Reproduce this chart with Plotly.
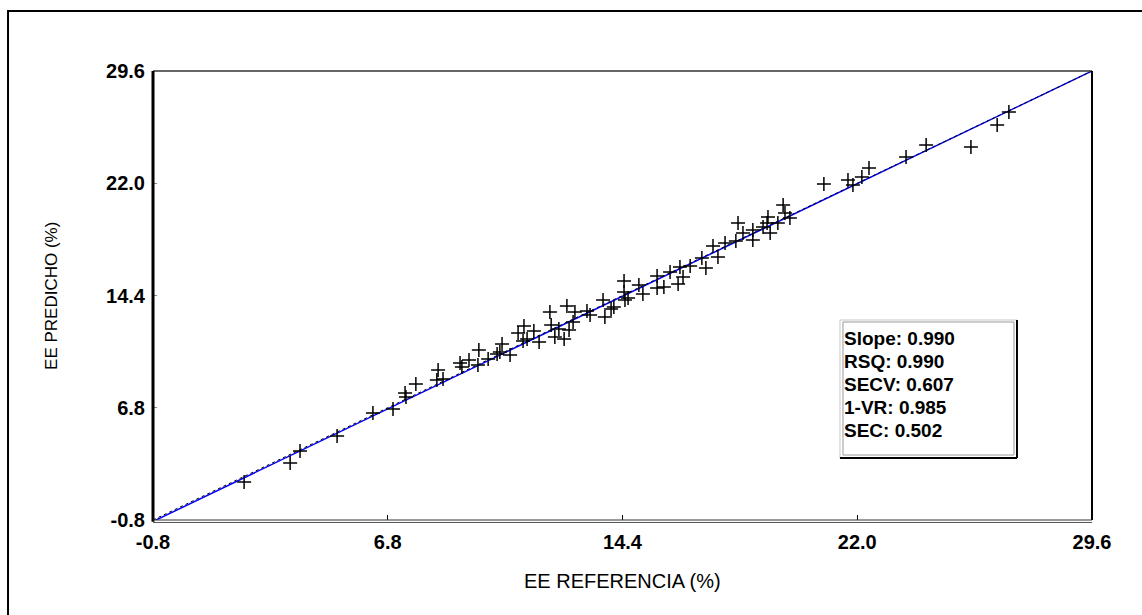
import plotly.graph_objects as go

# Reference vs predicted values (%)
ee_referencia = [
    2.15, 3.64, 3.96, 5.16, 6.32, 6.97, 7.36, 7.39, 7.71, 8.43,
    8.39, 8.59, 9.14, 9.20, 9.43, 9.75, 9.72, 10.05, 10.34, 10.50,
    10.43, 10.76, 11.02, 11.21, 11.18, 11.31, 11.53, 11.70, 12.05, 12.09,
    12.21, 12.34, 12.51, 12.60, 12.67, 12.80, 12.86, 13.25, 13.35, 13.77,
    13.83, 14.03, 14.12, 14.45, 14.45, 14.48, 14.58, 14.93, 15.06, 15.52,
    15.52, 15.74, 15.94, 16.20, 16.26, 16.36, 16.59, 16.97, 17.10, 17.33,
    17.49, 17.72, 18.07, 18.14, 18.30, 18.62, 18.62, 18.95, 19.11, 19.08,
    19.18, 19.43, 19.60, 19.66, 19.82, 20.92, 21.70, 21.86, 22.15, 22.38,
    23.58, 24.23, 25.68, 26.53, 26.91,
]
ee_predicho = [
    1.77, 3.06, 3.87, 4.89, 6.44, 6.72, 7.80, 7.53, 8.41, 9.36,
    8.68, 8.75, 9.83, 9.56, 10.03, 10.71, 9.69, 10.10, 10.44, 11.12,
    10.57, 10.37, 11.86, 12.34, 11.32, 11.45, 12.00, 11.25, 13.28, 12.40,
    11.59, 12.13, 11.45, 13.69, 12.06, 12.61, 13.28, 13.35, 13.08, 14.10,
    12.94, 13.49, 13.62, 15.38, 14.64, 14.10, 14.23, 15.11, 14.50, 15.72,
    14.91, 14.98, 15.99, 15.18, 16.33, 15.65, 16.40, 16.94, 16.26, 17.75,
    17.01, 17.95, 18.09, 19.31, 18.63, 18.16, 18.83, 19.04, 19.72, 19.31,
    18.63, 19.31, 20.53, 19.99, 19.65, 21.95, 22.22, 21.88, 22.42, 23.03,
    23.78, 24.59, 24.45, 25.94, 26.82,
]

# Identity (1:1) line and fitted calibration line
ideal_x = [-0.8, 29.6]
ideal_y = [-0.8, 29.6]
fit_x = [-0.8, 29.6]
fit_y = [-0.9, 29.6]

tick_vals = [-0.8, 6.8, 14.4, 22.0, 29.6]
tick_text = ["-0.8", "6.8", "14.4", "22.0", "29.6"]

stats_labels = ["Slope", "RSQ", "SECV", "1-VR", "SEC"]
stats_values = [0.990, 0.990, 0.607, 0.985, 0.502]

fig = go.Figure()

fig.add_trace(go.Scatter(
    x=fit_x, y=fit_y, mode="lines",
    line=dict(color="#0000ff", width=1.5),
    hoverinfo="skip", showlegend=False,
))
fig.add_trace(go.Scatter(
    x=ideal_x, y=ideal_y, mode="lines",
    line=dict(color="#000000", width=1, dash="dot"),
    hoverinfo="skip", showlegend=False,
))
fig.add_trace(go.Scatter(
    x=ee_referencia, y=ee_predicho, mode="markers",
    marker=dict(symbol="cross-thin", size=10, line=dict(color="#000000", width=1.5)),
    showlegend=False,
))

tick_font = dict(family="Liberation Sans, Arial, sans-serif", size=20, color="#000000", weight="bold")

fig.update_xaxes(
    range=[-0.8, 29.6], tickvals=tick_vals, ticktext=tick_text,
    showgrid=False, zeroline=False, showline=False,
    ticks="inside", ticklen=5, tickwidth=1, tickcolor="#000000",
    tickfont=tick_font, ticklabelstandoff=8,
)
fig.update_yaxes(
    range=[-0.8, 29.6], tickvals=tick_vals, ticktext=tick_text,
    showgrid=False, zeroline=False, showline=False,
    ticks="inside", ticklen=4, tickwidth=1, tickcolor="#888888",
    tickfont=tick_font, ticklabelstandoff=7,
)

shapes = [
    # outer frame
    dict(type="rect", xref="paper", yref="paper", x0=-0.1544, x1=1.08, y0=-0.25, y1=1.1336,
         line=dict(color="#000000", width=2), layer="below"),
    # plot frame: top, right, left, double bottom
    dict(type="line", xref="paper", yref="paper", x0=0, x1=1, y0=1, y1=1,
         line=dict(color="#333333", width=1.5)),
    dict(type="line", xref="paper", yref="paper", x0=1, x1=1, y0=0, y1=1,
         line=dict(color="#000000", width=2)),
    dict(type="line", xref="paper", yref="paper", x0=0, x1=0, y0=-0.004, y1=1,
         line=dict(color="#000000", width=3)),
    dict(type="line", xref="paper", yref="paper", x0=0, x1=1, y0=0.0, y1=0.0,
         line=dict(color="#333333", width=1)),
    dict(type="line", xref="paper", yref="paper", x0=0, x1=1, y0=-0.0055, y1=-0.0055,
         line=dict(color="#555555", width=1)),
    # statistics box with bevelled border
    dict(type="rect", xref="paper", yref="paper", x0=0.7316, x1=0.9201, y0=0.138, y1=0.4454,
         line=dict(color="#c8c8c8", width=1), fillcolor="#ffffff"),
    dict(type="line", xref="paper", yref="paper", x0=0.7316, x1=0.9201, y0=0.138, y1=0.138,
         line=dict(color="#000000", width=2)),
    dict(type="line", xref="paper", yref="paper", x0=0.9201, x1=0.9201, y0=0.138, y1=0.4454,
         line=dict(color="#000000", width=2)),
    dict(type="rect", xref="paper", yref="paper", x0=0.7348, x1=0.9169, y0=0.1447, y1=0.4410,
         line=dict(color="#9a9a9a", width=1)),
]

stats_font = dict(family="Liberation Sans, Arial, sans-serif", size=19, color="#000000", weight="bold")
annotations = []
# one line of the statistics box per entry, 23 px apart
for i, (k, v) in enumerate(zip(stats_labels, stats_values)):
    annotations.append(dict(
        text=f"{k}: {v:.3f}", xref="paper", yref="paper",
        x=0.7337, y=0.4053 - i * 23 / 449,
        xanchor="left", yanchor="middle", align="left", showarrow=False,
        font=stats_font,
    ))

annotations += [
    dict(text="EE REFERENCIA (%)", xref="paper", yref="paper", x=0.4995, y=-0.136,
         xanchor="center", yanchor="middle", showarrow=False,
         font=dict(family="Liberation Sans, Arial, sans-serif", size=20, color="#000000")),
    dict(text="EE PREDICHO (%)", xref="paper", yref="paper", x=-0.1076, y=0.4989,
         xanchor="center", yanchor="middle", textangle=-90, showarrow=False,
         font=dict(family="Liberation Sans, Arial, sans-serif", size=17, color="#000000")),
]

fig.update_layout(
    width=1142, height=615,
    margin=dict(l=153, r=50, t=71, b=95),
    paper_bgcolor="#ffffff", plot_bgcolor="#ffffff",
    shapes=shapes, annotations=annotations,
    showlegend=False,
)

fig.write_html("out.html")
